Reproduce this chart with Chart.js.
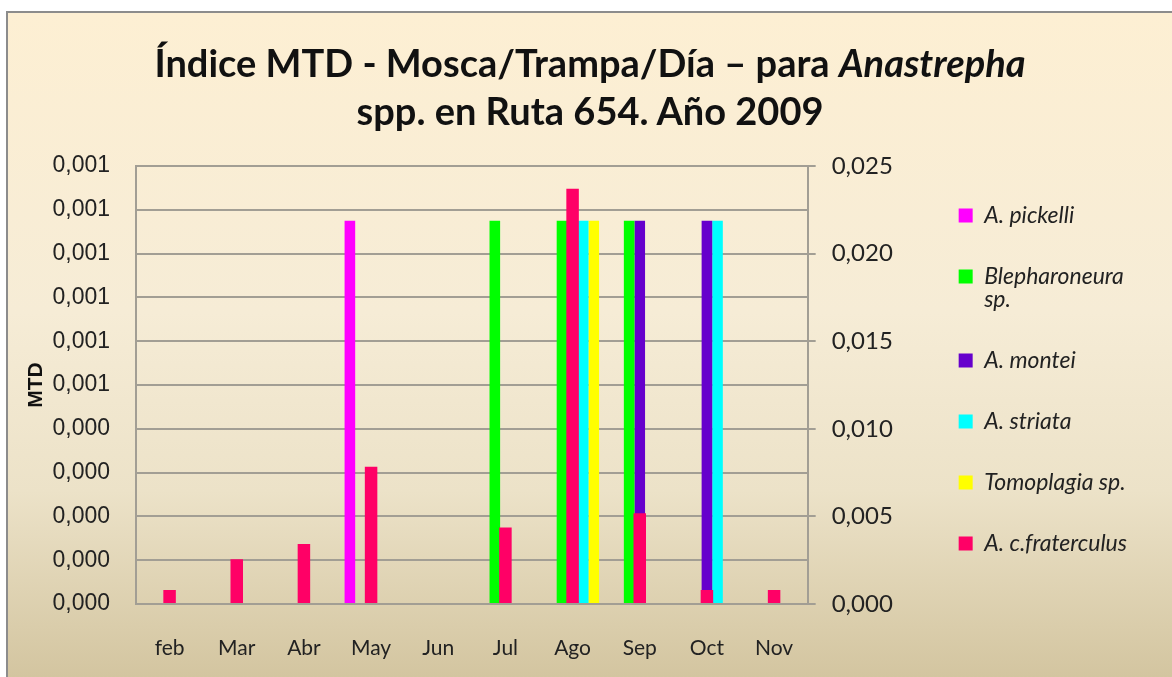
<!DOCTYPE html>
<html lang="es">
<head>
<meta charset="utf-8">
<title>Índice MTD - Ruta 654 - 2009</title>
<script src="https://cdn.jsdelivr.net/npm/chart.js@4.4.1/dist/chart.umd.min.js"></script>
<style>
  body { margin: 0; background: #fff; }
  #marco {
    position: absolute; left: 6px; top: 11px;
    width: 1164px; height: 664px;
    border-top: 2px solid #8c8c8c; border-left: 2px solid #8c8c8c;
    background: linear-gradient(to bottom, #fdefd3 0%, #f6ecd6 45%, #ece2c8 72%, #d3c5a0 100%);
  }
  #titulo {
    position: absolute; left: 0; right: 0; top: 25px;
    text-align: center; color: #111;
    font: bold 38px Lato, sans-serif; line-height: 48px;
  }
  #grafico { position: absolute; left: 0; top: 0; }
</style>
</head>
<body>
<div id="marco">
  <canvas id="grafico" width="1164" height="664"></canvas>
  <div id="titulo">Índice MTD - Mosca/Trampa/Día – para <i>Anastrepha</i><br>spp. en Ruta 654. Año 2009</div>
</div>
<script>
// meses y valores
const meses = ['feb', 'Mar', 'Abr', 'May', 'Jun', 'Jul', 'Ago', 'Sep', 'Oct', 'Nov'];

const pickelli      = [null, null, null, 0.000875, null, null, null, null, null, null];
const blepharoneura = [null, null, null, null, null, 0.000875, 0.000875, 0.000875, null, null];
const montei        = [null, null, null, null, null, null, null, 0.000875, 0.000875, null];
const striata       = [null, null, null, null, null, null, 0.000875, null, 0.000875, null];
const tomoplagia    = [null, null, null, null, null, null, 0.000875, null, null, null];
// eje secundario
const fraterculus   = [0.0008, 0.00255, 0.00343, 0.00784, 0, 0.00436, 0.0237, 0.00518, 0.0008, 0.0008];

const etiquetasIzq = ['0,000', '0,000', '0,000', '0,000', '0,000', '0,001', '0,001', '0,001', '0,001', '0,001', '0,001'];
const etiquetasDer = ['0,000', '0,005', '0,010', '0,015', '0,020', '0,025'];

const gris = '#a29e94';

function serie(nombre, datos, color) {
    return {
        label: nombre,
        data: datos,
        backgroundColor: color,
        borderWidth: 0,
        inflateAmount: 0,
        barThickness: 10.6,
        yAxisID: 'y'
    };
}

const $grafico = document.getElementById('grafico');

const graficoMTD = new Chart($grafico, {
    type: 'bar',
    data: {
        labels: meses,
        datasets: [
            serie('A. pickelli', pickelli, '#ff00ff'),
            serie(['Blepharoneura', 'sp.'], blepharoneura, '#00ff00'),
            serie('A. montei', montei, '#6600cc'),
            serie('A. striata', striata, '#00ffff'),
            serie('Tomoplagia sp.', tomoplagia, '#ffff00'),
            {
                // va sobre el eje derecho, centrada en el mes y por delante
                label: 'A. c.fraterculus',
                data: fraterculus,
                backgroundColor: '#ff0066',
                borderWidth: 0,
                inflateAmount: 0,
                barThickness: 12.5,
                grouped: false,
                yAxisID: 'y2',
                order: -1
            }
        ]
    },
    options: {
        responsive: false,
        animation: false,
        layout: { padding: { top: 153, left: 0, bottom: 0, right: 35 } },
        plugins: {
            title: { display: false },
            tooltip: { enabled: false },
            legend: {
                position: 'right',
                align: 'start',
                fullSize: false,
                maxWidth: 300,
                labels: {
                    boxWidth: 14,
                    boxHeight: 14,
                    padding: 38,
                    color: '#222',
                    font: { family: 'Lato', size: 23, style: 'italic', lineHeight: 1.0 },
                    sort: (a, b) => a.datasetIndex - b.datasetIndex
                }
            }
        },
        scales: {
            x: {
                type: 'category',
                offset: true,
                grid: { display: false, drawTicks: false },
                border: { display: true, color: gris, width: 2 },
                ticks: { color: '#222', padding: 32, font: { family: 'Lato', size: 21 } },
                afterFit: (escala) => { escala.height = 73; }
            },
            y: {
                position: 'left',
                min: 0,
                max: 0.001,
                ticks: {
                    stepSize: 0.0001,
                    color: '#222',
                    padding: 26,
                    font: { family: 'Liberation Sans', size: 23 },
                    callback: (valor, i) => etiquetasIzq[i]
                },
                grid: { color: gris, lineWidth: 2, drawTicks: false },
                border: { display: true, color: gris, width: 2 },
                title: {
                    display: true,
                    text: 'MTD',
                    color: '#111',
                    padding: { top: 16, bottom: 0 },
                    font: { family: 'Liberation Sans', size: 21, weight: 'bold' }
                },
                afterFit: (escala) => { escala.width = 128; }
            },
            y2: {
                position: 'right',
                min: 0,
                max: 0.025,
                ticks: {
                    stepSize: 0.005,
                    color: '#222',
                    padding: 16,
                    font: { family: 'Lato', size: 24 },
                    callback: (valor, i) => etiquetasDer[i]
                },
                grid: { drawOnChartArea: false, drawTicks: true, tickLength: 8, color: gris, lineWidth: 2 },
                border: { display: true, color: gris, width: 2 },
                afterFit: (escala) => { escala.width = 113; }
            }
        }
    }
});
</script>
</body>
</html>
